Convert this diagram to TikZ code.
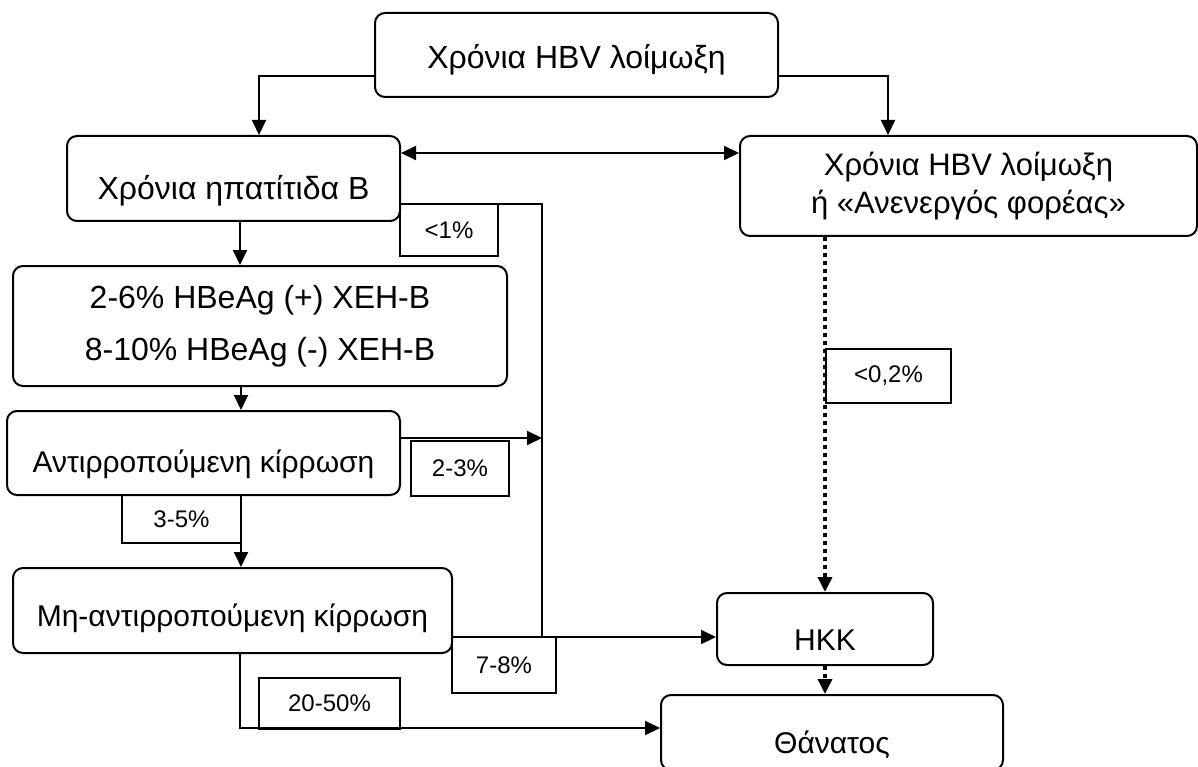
\documentclass[tikz,border=0pt]{standalone}
\usepackage{fontspec}
\setmainfont{Liberation Sans}
\usetikzlibrary{arrows.meta}
\newcommand\bigtxt{\fontsize{30}{38.5}\selectfont}
\newcommand\hugetxt{\fontsize{32}{38.5}\selectfont}
\newcommand\smalltxt{\fontsize{24}{28}\selectfont}
\tikzset{>={Triangle[length=15pt,width=14pt]}}
\tikzset{
  stage/.style={draw,rounded corners=10pt,line width=2pt,font=\bigtxt,inner sep=0pt},
  rate/.style={draw,line width=1.8pt,font=\smalltxt,inner sep=0pt},
  drop/.style={text height=#1,text depth=7pt},
  flow/.style={line width=2pt},
  risk/.style={line width=3.5pt,dash pattern=on 4pt off 4pt}
}
\begin{document}
\begin{tikzpicture}[x=1pt,y=-1pt]
	\useasboundingbox (0,0) rectangle (1198,767);
	\node[stage,font=\hugetxt,drop=34pt,minimum width=403pt,minimum height=84pt] (top) at (576.5,55) {Χρόνια HBV λοίμωξη};
	\node[stage,font=\hugetxt,drop=50pt,minimum width=333pt,minimum height=85pt] (hep) at (233.5,178.5) {Χρόνια ηπατίτιδα Β};
	\node[stage,font=\fontsize{31}{38.5}\selectfont,align=center,minimum width=457pt,minimum height=100pt] (carr) at (968.5,186) {Χρόνια HBV λοίμωξη\\ή «Ανενεργός φορέας»};
	\node[stage,font=\hugetxt,align=center,minimum width=494pt,minimum height=120pt] (hbeag) at (260,326) {2-6\% HBeAg (+) ΧΕΗ-Β\\[13.5pt]8-10\% HBeAg (-) ΧΕΗ-Β};
	\node[stage,drop=46.5pt,minimum width=393pt,minimum height=84pt] (comp) at (203.5,453) {Αντιρροπούμενη κίρρωση};
	\node[stage,drop=38.5pt,minimum width=439pt,minimum height=85pt] (decomp) at (232.5,610.5) {Μη-αντιρροπούμενη κίρρωση};
	\node[stage,drop=50.5pt,minimum width=216pt,minimum height=72pt] (hcc) at (825,629) {ΗΚΚ};
	\node[stage,drop=49.5pt,minimum width=342pt,minimum height=75pt] (death) at (832,732.5) {Θάνατος};
	\coordinate (jn) at (542,637);

	\draw[flow,->] (top.west |- 0,76) -| (hep.north -| 259,0);
	\draw[flow,->] (top.east |- 0,76) -| (carr.north -| 888,0);
	\draw[flow,<->] (hep.east |- 0,153) -- (carr.west |- 0,153);
	\draw[flow,->] (hep.south -| 240,0) -- (hbeag.north -| 240,0);
	\draw[flow] (hep.east |- 0,204) -| (jn);
	\draw[flow,->] (hbeag.south -| 241,0) -- (comp.north -| 241,0);
	\draw[flow,->] (comp.east |- 0,438) -- (jn |- 0,438);
	\draw[flow,->] (comp.south -| 241,0) -- (decomp.north -| 241,0);
	\draw[flow,->] (decomp.east |- jn) -- (hcc.west |- jn);
	\draw[flow,->] (decomp.south -| 240,0) |- (death.west |- 0,728);
	\draw[risk,->] (carr.south -| hcc) -- (hcc.north);
	\draw[risk,->] (hcc.south) -- (death.north -| hcc);

	\node[rate,minimum width=98pt,minimum height=52pt] (p1) at (449,230) {<1\%};
	\node[rate,minimum width=98pt,minimum height=55pt] (p23) at (460,468.5) {2-3\%};
	\node[rate,minimum width=119pt,minimum height=48pt] (p35) at (181.5,519) {3-5\%};
	\node[rate,minimum width=104pt,minimum height=56pt] (p78) at (504,665) {7-8\%};
	\node[rate,minimum width=141pt,minimum height=51pt] (p2050) at (329.5,703.5) {20-50\%};
	\node[rate,minimum width=125pt,minimum height=54pt] (p02) at (888.5,376) {<0,2\%};
\end{tikzpicture}
\end{document}
